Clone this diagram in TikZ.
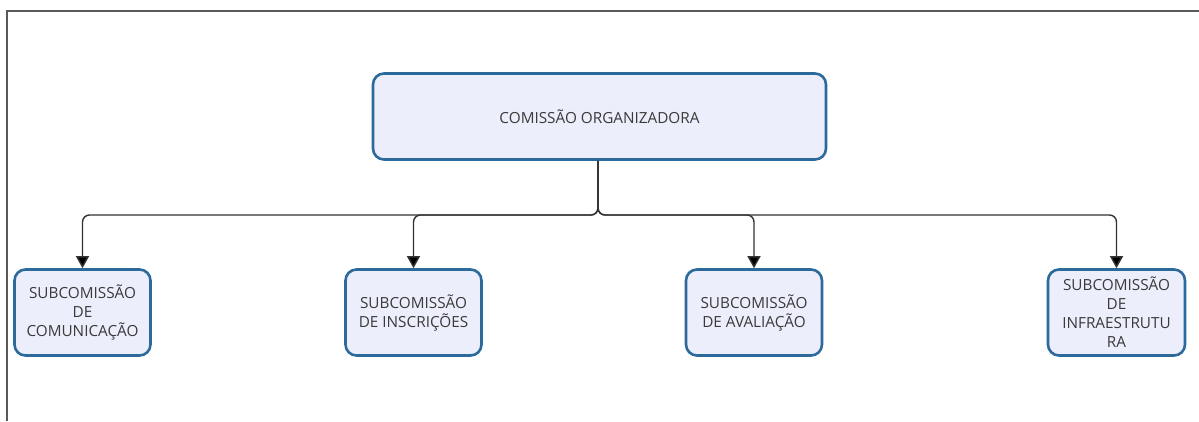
\documentclass[tikz,border=0pt]{standalone}
\usepackage{fontspec}
\setmainfont{Open Sans}
\usetikzlibrary{arrows.meta}
\definecolor{boxfill}{HTML}{ECEEFB}
\definecolor{boxline}{HTML}{2D6A9C}
\definecolor{txt}{HTML}{3A3A3A}
\definecolor{framec}{HTML}{5A5A5A}
\definecolor{linec}{HTML}{333333}
\begin{document}
\begin{tikzpicture}[x=1pt,y=-1pt,
  box/.style={draw=boxline, line width=2.6pt, fill=boxfill, rounded corners=11pt,
    text=txt, align=center, font=\fontsize{15.3}{19}\selectfont, inner sep=0pt},
  conn/.style={draw=linec, line width=1.4pt, rounded corners=7pt,
    -{Triangle[width=13pt,length=12pt,fill=black]}}]
\useasboundingbox (0,0) rectangle (1199,421);
\draw[framec, line width=2pt] (7,421) -- (7,11) -- (1199,11);
\node[box, minimum width=453pt, minimum height=86pt] (main) at (599.5,116.5) {COMISSÃO ORGANIZADORA};
\node[box, minimum width=136pt, minimum height=86pt] (c1) at (82.5,312.5) {SUBCOMISSÃO\\DE\\COMUNICAÇÃO};
\node[box, minimum width=136pt, minimum height=86pt] (c2) at (413.5,312.5) {SUBCOMISSÃO\\DE INSCRIÇÕES};
\node[box, minimum width=136pt, minimum height=86pt] (c3) at (754,312.5) {SUBCOMISSÃO\\DE AVALIAÇÃO};
\node[box, minimum width=137pt, minimum height=86pt] (c4) at (1116.5,312.5) {SUBCOMISSÃO\\DE\\INFRAESTRUTU\\RA};
\coordinate (bus) at (598,215);
\draw[conn] ([xshift=-1.5pt]main.south) |- (c1 |- bus) -- (c1.north);
\draw[conn] ([xshift=-1.5pt]main.south) |- (c2 |- bus) -- (c2.north);
\draw[conn] ([xshift=-1.5pt]main.south) |- (c3 |- bus) -- (c3.north);
\draw[conn] ([xshift=-1.5pt]main.south) |- (c4 |- bus) -- (c4.north);
\end{tikzpicture}
\end{document}
